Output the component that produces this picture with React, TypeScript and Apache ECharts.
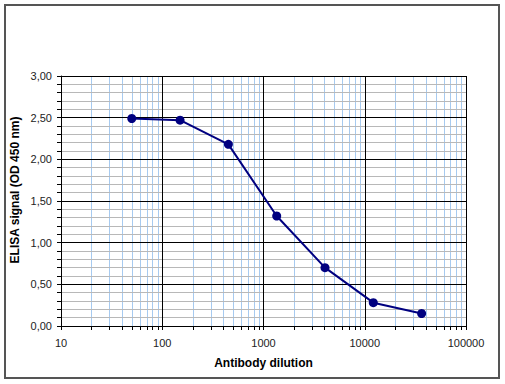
import React, { useEffect, useRef } from "react";
import * as echarts from "echarts";

const dilutions = [50, 150, 450, 1350, 4050, 12150, 36450];
const signals = [2.49, 2.47, 2.18, 1.32, 0.7, 0.28, 0.15];
const xDecades = [10, 100, 1000, 10000, 100000];
const yRange = [0, 3];

// minor log gridline positions (2..9 within each decade)
const minorX: number[] = [];
for (let d = 0; d < xDecades.length - 1; d++) {
  for (let m = 2; m <= 9; m++) minorX.push(xDecades[d] * m);
}

const FONT = "'Liberation Sans', Arial, sans-serif";

export default function App() {
  const ref = useRef<HTMLDivElement>(null);
  useEffect(() => {
    const chart = echarts.init(ref.current!, null, { renderer: "svg" });
    chart.setOption({
      animation: false,
      backgroundColor: "#ffffff",
      grid: { left: 61, top: 76, right: 39, bottom: 58 },
      graphic: [
        {
          type: "rect",
          shape: { x: 5, y: 5, width: 494, height: 373 },
          style: { fill: "none", stroke: "#555555", lineWidth: 2 },
          silent: true,
        },
        {
          type: "text",
          x: 15,
          y: 190,
          rotation: Math.PI / 2,
          style: {
            text: "ELISA signal (OD 450 nm)",
            font: `bold 12px ${FONT}`,
            fill: "#000",
            textAlign: "center",
            textVerticalAlign: "middle",
          },
        },
      ],
      xAxis: {
        type: "log",
        logBase: 10,
        min: xDecades[0],
        max: xDecades[xDecades.length - 1],
        name: "Antibody dilution",
        nameLocation: "middle",
        nameGap: 31,
        nameTextStyle: { fontFamily: FONT, fontWeight: "bold", fontSize: 12, color: "#000" },
        axisLine: { show: true, lineStyle: { color: "#000", width: 1 } },
        axisTick: { show: true, length: 4, lineStyle: { color: "#000" } },
        axisLabel: {
          margin: 11,
          fontFamily: FONT,
          fontSize: 11,
          color: "#222",
          formatter: (v: number) => String(Math.round(v)),
        },
        splitLine: { show: true, lineStyle: { color: "#000", width: 1 } },
      },
      yAxis: {
        type: "value",
        min: yRange[0],
        max: yRange[1],
        interval: 0.5,
        axisLine: { show: true, lineStyle: { color: "#000", width: 1 } },
        axisTick: { show: true, length: 4, lineStyle: { color: "#000" } },
        minorTick: { show: true, splitNumber: 5, length: 4, lineStyle: { color: "#000" } },
        minorSplitLine: { show: true, lineStyle: { color: "#b8b8b8", width: 1 } },
        axisLabel: {
          margin: 9,
          fontFamily: FONT,
          fontSize: 11,
          color: "#222",
          formatter: (v: number) => v.toFixed(2).replace(".", ","),
        },
        splitLine: { show: true, lineStyle: { color: "#000", width: 1 } },
      },
      series: [
        {
          type: "custom",
          silent: true,
          clip: false,
          z: -1,
          data: minorX.map((v) => [v, 0]),
          encode: { x: 0, y: 1 },
          renderItem: (params: any, api: any) => {
            const x = api.value(0);
            const top = api.coord([x, yRange[1]]);
            const bot = api.coord([x, yRange[0]]);
            const px = Math.round(top[0]) + 0.5;
            return {
              type: "group",
              children: [
                {
                  type: "line",
                  shape: { x1: px, y1: top[1], x2: px, y2: bot[1] },
                  style: { stroke: "#a6caf0", lineWidth: 1 },
                },
                {
                  type: "line",
                  shape: { x1: px, y1: bot[1], x2: px, y2: bot[1] + 4 },
                  style: { stroke: "#000", lineWidth: 1 },
                },
              ],
            };
          },
        },
        {
          type: "line",
          data: dilutions.map((d, i) => [d, signals[i]]),
          symbol: "circle",
          symbolSize: 9,
          lineStyle: { color: "#000080", width: 2 },
          itemStyle: { color: "#000080" },
          z: 5,
        },
      ],
    });
    return () => chart.dispose();
  }, []);
  return (
    <div
      ref={ref}
      style={{ position: "fixed", left: 0, top: 0, width: 505, height: 384 }}
    />
  );
}
